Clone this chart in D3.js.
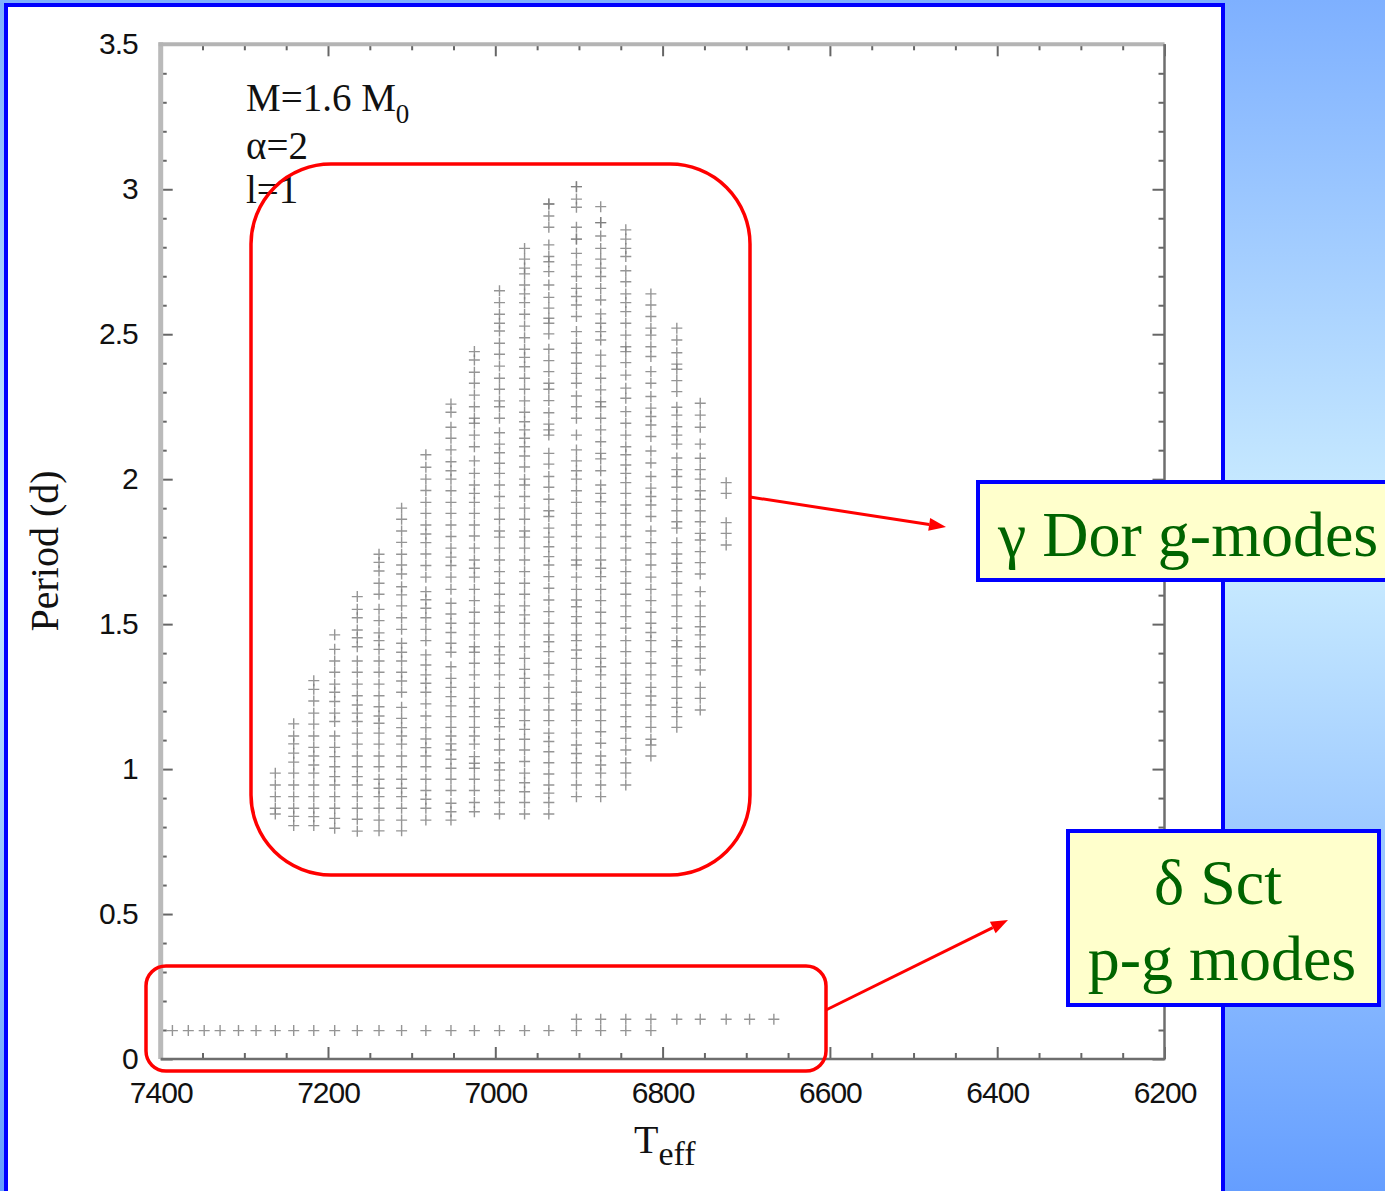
<!DOCTYPE html>
<html>
<head>
<meta charset="utf-8">
<script src="https://cdn.jsdelivr.net/npm/d3@7/dist/d3.min.js"></script>
<style>
  html, body { margin: 0; padding: 0; background: #ffffff; }
  svg { display: block; }
</style>
</head>
<body>
<svg id="chart" width="1385" height="1191"></svg>
<script>
// ---- Axis ticks -------------------------------------------------------
const teffMajorTicks = [7400, 7200, 7000, 6800, 6600, 6400, 6200];
const periodMajorTicks = [0, 0.5, 1, 1.5, 2, 2.5, 3, 3.5];
const teffTickLabels = ["7400", "7200", "7000", "6800", "6600", "6400", "6200"];
const periodTickLabels = ["0", "0.5", "1", "1.5", "2", "2.5", "3", "3.5"];

// ---- delta Sct (p-g) modes, one row along the bottom ------------------
const sctTeff = [7386, 7367, 7348, 7329, 7307, 7286, 7263, 7241, 7217, 7192, 7165, 7139,
                 7112, 7083, 7053, 7025, 6995, 6965, 6936,
                 6903, 6903, 6874, 6874, 6844, 6844, 6814, 6814,
                 6783, 6755, 6724, 6696, 6667];
const sctPeriod = [0.098, 0.098, 0.098, 0.098, 0.098, 0.098, 0.098, 0.098, 0.098, 0.098, 0.098, 0.098,
                   0.098, 0.098, 0.098, 0.098, 0.098, 0.098, 0.098,
                   0.098, 0.137, 0.098, 0.137, 0.098, 0.137, 0.098, 0.137,
                   0.137, 0.137, 0.137, 0.137, 0.137];

// ---- gamma Dor g-modes (l=1), periods in days for each model Teff -----
const gTeff = [7263, 7241, 7217, 7192, 7165, 7139, 7112, 7083, 7053, 7025,
               6995, 6965, 6936, 6903, 6874, 6844, 6814, 6783, 6755, 6724];

const p7263 = [0.986, 0.945, 0.905, 0.865, 0.845];
const p7241 = [1.156, 1.114, 1.087, 1.055, 1.024, 0.986, 0.945, 0.905, 0.865, 0.837, 0.805];
const p7217 = [1.305, 1.275, 1.235, 1.193, 1.155, 1.114, 1.075, 1.045, 1.014, 0.986, 0.945, 0.905,
               0.865, 0.836, 0.805];
const p7192 = [1.463, 1.413, 1.373, 1.334, 1.293, 1.265, 1.233, 1.193, 1.164, 1.114, 1.075, 1.043,
               1.008, 0.974, 0.945, 0.905, 0.865, 0.830, 0.796];
const p7165 = [1.595, 1.551, 1.522, 1.480, 1.453, 1.422, 1.373, 1.334, 1.293, 1.253, 1.221, 1.193,
               1.164, 1.124, 1.086, 1.045, 1.008, 0.974, 0.945, 0.905, 0.865, 0.827, 0.786];
const p7139 = [1.741, 1.713, 1.683, 1.641, 1.603, 1.551, 1.512, 1.470, 1.443, 1.413, 1.373, 1.334,
               1.293, 1.253, 1.215, 1.183, 1.158, 1.124, 1.086, 1.045, 1.008, 0.965, 0.934, 0.905,
               0.865, 0.824, 0.787];
const p7112 = [1.900, 1.862, 1.821, 1.782, 1.741, 1.704, 1.673, 1.629, 1.601, 1.563, 1.522, 1.482,
               1.434, 1.403, 1.373, 1.334, 1.304, 1.265, 1.213, 1.175, 1.143, 1.114, 1.086, 1.045,
               1.008, 0.965, 0.934, 0.905, 0.865, 0.824, 0.787];
const p7083 = [2.084, 2.041, 2.000, 1.961, 1.920, 1.882, 1.842, 1.811, 1.781, 1.742, 1.702, 1.662,
               1.612, 1.584, 1.555, 1.522, 1.482, 1.443, 1.394, 1.359, 1.325, 1.296, 1.265, 1.225,
               1.183, 1.143, 1.104, 1.074, 1.045, 1.008, 0.965, 0.926, 0.896, 0.865, 0.824];
const p7053 = [2.259, 2.231, 2.179, 2.141, 2.101, 2.060, 2.029, 2.000, 1.960, 1.920, 1.882, 1.842,
               1.802, 1.762, 1.731, 1.702, 1.662, 1.620, 1.572, 1.535, 1.503, 1.471, 1.434, 1.403,
               1.353, 1.313, 1.282, 1.250, 1.218, 1.181, 1.144, 1.114, 1.087, 1.066, 1.034, 1.003,
               0.965, 0.926, 0.882, 0.853, 0.824];
const p7025 = [2.440, 2.411, 2.369, 2.331, 2.290, 2.250, 2.210, 2.193, 2.152, 2.112, 2.063, 2.020,
               1.980, 1.951, 1.920, 1.882, 1.842, 1.804, 1.762, 1.721, 1.693, 1.662, 1.620, 1.581,
               1.541, 1.503, 1.463, 1.422, 1.403, 1.365, 1.325, 1.282, 1.244, 1.215, 1.181, 1.144,
               1.114, 1.086, 1.043, 1.020, 1.003, 0.965, 0.926, 0.885, 0.853];
const p6995 = [2.650, 2.609, 2.569, 2.538, 2.511, 2.469, 2.431, 2.390, 2.348, 2.310, 2.270, 2.250,
               2.210, 2.160, 2.121, 2.091, 2.055, 2.020, 1.980, 1.940, 1.900, 1.862, 1.821, 1.800,
               1.762, 1.721, 1.681, 1.641, 1.603, 1.563, 1.541, 1.503, 1.463, 1.422, 1.394, 1.365,
               1.325, 1.282, 1.244, 1.204, 1.175, 1.146, 1.103, 1.066, 1.022, 0.997, 0.962, 0.926,
               0.885, 0.845];
const p6965 = [2.796, 2.759, 2.728, 2.708, 2.670, 2.639, 2.609, 2.569, 2.528, 2.488, 2.448, 2.420,
               2.388, 2.348, 2.310, 2.270, 2.231, 2.198, 2.170, 2.141, 2.112, 2.080, 2.042, 2.000,
               1.980, 1.940, 1.900, 1.862, 1.821, 1.800, 1.762, 1.721, 1.681, 1.641, 1.603, 1.563,
               1.532, 1.503, 1.463, 1.422, 1.382, 1.344, 1.313, 1.282, 1.244, 1.204, 1.167, 1.137,
               1.103, 1.066, 1.026, 0.986, 0.953, 0.922, 0.885, 0.845];
const p6936 = [2.949, 2.949, 2.908, 2.869, 2.808, 2.768, 2.750, 2.716, 2.670, 2.627, 2.590, 2.555,
               2.538, 2.501, 2.448, 2.409, 2.371, 2.331, 2.310, 2.271, 2.229, 2.190, 2.170, 2.152,
               2.089, 2.052, 2.009, 1.972, 1.931, 1.891, 1.871, 1.831, 1.800, 1.767, 1.733, 1.704,
               1.664, 1.624, 1.583, 1.543, 1.503, 1.463, 1.439, 1.405, 1.365, 1.325, 1.282, 1.244,
               1.204, 1.167, 1.124, 1.095, 1.060, 1.022, 0.983, 0.945, 0.917, 0.885, 0.845];
const p6903 = [3.009, 3.009, 2.966, 2.938, 2.869, 2.828, 2.828, 2.779, 2.739, 2.699, 2.658, 2.630,
               2.601, 2.561, 2.509, 2.469, 2.436, 2.400, 2.365, 2.331, 2.287, 2.250, 2.210, 2.152,
               2.101, 2.063, 2.029, 2.000, 1.960, 1.920, 1.882, 1.842, 1.802, 1.762, 1.721, 1.704,
               1.662, 1.620, 1.583, 1.560, 1.526, 1.503, 1.463, 1.443, 1.411, 1.382, 1.344, 1.304,
               1.265, 1.225, 1.204, 1.167, 1.124, 1.083, 1.054, 1.022, 0.986, 0.945, 0.905];
const p6874 = [2.940, 2.885, 2.885, 2.839, 2.796, 2.759, 2.728, 2.699, 2.658, 2.618, 2.570, 2.538,
               2.509, 2.480, 2.428, 2.390, 2.348, 2.308, 2.267, 2.250, 2.210, 2.170, 2.129, 2.089,
               2.070, 2.029, 1.980, 1.951, 1.922, 1.882, 1.842, 1.800, 1.762, 1.721, 1.693, 1.664,
               1.620, 1.581, 1.541, 1.503, 1.463, 1.422, 1.382, 1.353, 1.325, 1.282, 1.244, 1.204,
               1.167, 1.129, 1.089, 1.045, 1.014, 0.986, 0.945, 0.905];
const p6844 = [2.860, 2.828, 2.796, 2.768, 2.719, 2.681, 2.639, 2.609, 2.578, 2.538, 2.497, 2.457,
               2.440, 2.402, 2.359, 2.314, 2.279, 2.233, 2.193, 2.152, 2.112, 2.084, 2.049, 2.020,
               1.988, 1.951, 1.911, 1.882, 1.842, 1.802, 1.762, 1.721, 1.681, 1.641, 1.603, 1.563,
               1.526, 1.486, 1.443, 1.405, 1.365, 1.325, 1.296, 1.261, 1.221, 1.181, 1.146, 1.106,
               1.066, 1.022, 0.986, 0.945];
const p6814 = [2.639, 2.601, 2.561, 2.521, 2.497, 2.457, 2.423, 2.371, 2.331, 2.285, 2.245, 2.216,
               2.187, 2.147, 2.097, 2.056, 2.009, 1.969, 1.940, 1.911, 1.871, 1.821, 1.781, 1.742,
               1.704, 1.662, 1.620, 1.581, 1.541, 1.503, 1.471, 1.443, 1.405, 1.365, 1.325, 1.282,
               1.252, 1.221, 1.181, 1.144, 1.103, 1.083, 1.045];
const p6783 = [2.521, 2.480, 2.436, 2.397, 2.379, 2.340, 2.302, 2.248, 2.221, 2.181, 2.152, 2.121,
               2.073, 2.033, 2.009, 1.972, 1.931, 1.891, 1.853, 1.831, 1.781, 1.742, 1.710, 1.681,
               1.641, 1.601, 1.563, 1.526, 1.486, 1.443, 1.422, 1.382, 1.356, 1.319, 1.282, 1.244,
               1.213, 1.181, 1.144];
const p6755 = [2.262, 2.221, 2.179, 2.121, 2.072, 2.033, 2.000, 1.960, 1.931, 1.891, 1.853, 1.813,
               1.790, 1.750, 1.712, 1.673, 1.612, 1.563, 1.526, 1.491, 1.463, 1.422, 1.382, 1.342,
               1.282, 1.244, 1.204];
const p6724 = [1.988, 1.951, 1.850, 1.813, 1.773];

const gPeriods = [p7263, p7241, p7217, p7192, p7165, p7139, p7112, p7083, p7053, p7025,
                  p6995, p6965, p6936, p6903, p6874, p6844, p6814, p6783, p6755, p6724];

// ---- Layout -----------------------------------------------------------
const svg = d3.select("#chart");
const W = 1385, H = 1191;
const plot = { left: 160.7, right: 1164.5, top: 44.3, bottom: 1059 };

const x = d3.scaleLinear().domain([7400, 6200]).range([plot.left, plot.right]);
const y = d3.scaleLinear().domain([0, 3.5]).range([plot.bottom, plot.top]);

// slide background
const defs = svg.append("defs");
const bg = defs.append("linearGradient")
  .attr("id", "slideBg").attr("x1", 0).attr("y1", 0).attr("x2", 0).attr("y2", 1);
bg.append("stop").attr("offset", "0%").attr("stop-color", "#7eb0ff");
bg.append("stop").attr("offset", "45%").attr("stop-color", "#cdeeff");
bg.append("stop").attr("offset", "100%").attr("stop-color", "#659eff");
svg.append("rect").attr("width", W).attr("height", H).attr("fill", "url(#slideBg)");

// white panel holding the figure
svg.append("rect")
  .attr("x", 6).attr("y", 5).attr("width", 1217).attr("height", 1220)
  .attr("fill", "#ffffff").attr("stroke", "#0000ff").attr("stroke-width", 4);

// ---- Ticks (mirrored on all four sides, pointing inward) --------------
const teffMinor = d3.range(7400, 6199, -50).filter(v => v % 200 !== 0);
const periodMinor = d3.range(0, 35.01, 1).map(v => v / 10).filter(v => Math.round(v * 10) % 5 !== 0);

function styleTicks(g) {
  g.select(".domain").remove();
  g.selectAll(".tick line").attr("stroke", "#666").attr("stroke-width", 2);
}

const tickFont = "'Liberation Sans', Arial, sans-serif";

// bottom
svg.append("g").attr("transform", `translate(0,${plot.bottom})`)
  .call(d3.axisBottom(x).tickValues(teffMinor).tickSize(-6).tickFormat(""))
  .call(styleTicks);
svg.append("g").attr("transform", `translate(0,${plot.bottom})`)
  .call(d3.axisBottom(x).tickValues(teffMajorTicks).tickSize(-12).tickPadding(23)
        .tickFormat((d, i) => teffTickLabels[i]))
  .call(styleTicks)
  .call(g => g.selectAll("text").attr("font-family", tickFont).attr("font-size", 30)
             .attr("fill", "#111").attr("letter-spacing", "-1"));
// top
svg.append("g").attr("transform", `translate(0,${plot.top})`)
  .call(d3.axisTop(x).tickValues(teffMinor).tickSize(-6).tickFormat(""))
  .call(styleTicks);
svg.append("g").attr("transform", `translate(0,${plot.top})`)
  .call(d3.axisTop(x).tickValues(teffMajorTicks).tickSize(-12).tickFormat(""))
  .call(styleTicks);
// left
svg.append("g").attr("transform", `translate(${plot.left},0)`)
  .call(d3.axisLeft(y).tickValues(periodMinor).tickSize(-6).tickFormat(""))
  .call(styleTicks);
svg.append("g").attr("transform", `translate(${plot.left},0)`)
  .call(d3.axisLeft(y).tickValues(periodMajorTicks).tickSize(-12).tickPadding(23)
        .tickFormat((d, i) => periodTickLabels[i]))
  .call(styleTicks)
  .call(g => g.selectAll("text").attr("font-family", tickFont).attr("font-size", 30)
             .attr("fill", "#111").attr("letter-spacing", "-1"));
// right
svg.append("g").attr("transform", `translate(${plot.right},0)`)
  .call(d3.axisRight(y).tickValues(periodMinor).tickSize(-6).tickFormat(""))
  .call(styleTicks);
svg.append("g").attr("transform", `translate(${plot.right},0)`)
  .call(d3.axisRight(y).tickValues(periodMajorTicks).tickSize(-12).tickFormat(""))
  .call(styleTicks);

// frame
const frame = svg.append("g").attr("fill", "none");
frame.append("line").attr("x1", plot.left).attr("x2", plot.left)
  .attr("y1", plot.top - 2).attr("y2", plot.bottom).attr("stroke", "#bababa").attr("stroke-width", 5);
frame.append("line").attr("x1", plot.left - 2).attr("x2", plot.right)
  .attr("y1", plot.top).attr("y2", plot.top).attr("stroke", "#b4b4b4").attr("stroke-width", 4);
frame.append("line").attr("x1", plot.left).attr("x2", plot.right + 1)
  .attr("y1", plot.bottom).attr("y2", plot.bottom).attr("stroke", "#6e6e6e").attr("stroke-width", 2.5);
frame.append("line").attr("x1", plot.right).attr("x2", plot.right)
  .attr("y1", plot.top).attr("y2", plot.bottom).attr("stroke", "#6e6e6e").attr("stroke-width", 2.5);

// ---- Plus markers -----------------------------------------------------
const half = 5.5;
const plusPath = (cx, cy) =>
  `M${cx - half},${cy}H${cx + half}M${cx},${cy - half}V${cy + half}`;

const gPoints = gTeff.flatMap((t, i) => gPeriods[i].map(p => ({ t, p })));
const sctPoints = sctTeff.map((t, i) => ({ t, p: sctPeriod[i] }));

const marks = svg.append("g").attr("fill", "none").attr("stroke", "#7a7a7a")
  .attr("stroke-width", 1.4).attr("stroke-opacity", 0.8);
marks.selectAll("path.g").data(gPoints).join("path")
  .attr("class", "g").attr("d", d => plusPath(x(d.t), y(d.p)));
marks.selectAll("path.s").data(sctPoints).join("path")
  .attr("class", "s").attr("d", d => plusPath(x(d.t), y(d.p)));

// ---- Axis titles and model parameters ---------------------------------
const serif = "'Liberation Serif', 'Times New Roman', serif";

svg.append("text")
  .attr("transform", "translate(58,551) rotate(-90)")
  .attr("text-anchor", "middle").attr("font-family", serif).attr("font-size", 40)
  .attr("fill", "#111").text("Period (d)");

const teffLabel = svg.append("text").attr("x", 634).attr("y", 1153)
  .attr("font-family", serif).attr("font-size", 40).attr("fill", "#111");
teffLabel.append("tspan").text("T");
teffLabel.append("tspan").attr("dy", 12).attr("font-size", 34).text("eff");

const params = svg.append("g").attr("font-family", serif).attr("font-size", 39).attr("fill", "#111");
const massLine = params.append("text").attr("x", 246).attr("y", 111);
massLine.append("tspan").text("M=1.6 M");
massLine.append("tspan").attr("dy", 12).attr("font-size", 27).text("0");
params.append("text").attr("x", 246).attr("y", 159).text("α=2");
params.append("text").attr("x", 246).attr("y", 203).text("l=1");

// ---- Highlight boxes and arrows ---------------------------------------
const red = "#ff0000";
svg.append("rect").attr("x", 251).attr("y", 164).attr("width", 499).attr("height", 711)
  .attr("rx", 80).attr("ry", 80)
  .attr("fill", "none").attr("stroke", red).attr("stroke-width", 3.5);
svg.append("rect").attr("x", 146).attr("y", 966).attr("width", 680).attr("height", 105)
  .attr("rx", 20).attr("ry", 20)
  .attr("fill", "none").attr("stroke", red).attr("stroke-width", 3.5);

function arrow(x1, y1, x2, y2) {
  const a = Math.atan2(y2 - y1, x2 - x1);
  const len = 17, w = 6.5;
  const bx = x2 - len * Math.cos(a), by = y2 - len * Math.sin(a);
  svg.append("line").attr("x1", x1).attr("y1", y1).attr("x2", bx).attr("y2", by)
    .attr("stroke", red).attr("stroke-width", 3);
  const pts = [
    [x2, y2],
    [bx + w * Math.sin(a), by - w * Math.cos(a)],
    [bx - w * Math.sin(a), by + w * Math.cos(a)]
  ];
  svg.append("path").attr("d", d3.line()(pts) + "Z").attr("fill", red);
}
arrow(750, 497, 946, 527);
arrow(826, 1010, 1008, 920);

// ---- Callout labels ---------------------------------------------------
const green = "#006400";
svg.append("rect").attr("x", 978).attr("y", 482).attr("width", 430).attr("height", 98)
  .attr("fill", "#ffffcc").attr("stroke", "#0000ff").attr("stroke-width", 4);
svg.append("text").attr("x", 998).attr("y", 556)
  .attr("font-family", serif).attr("font-size", 64).attr("fill", green)
  .text("γ Dor g-modes");

svg.append("rect").attr("x", 1068).attr("y", 831).attr("width", 311).attr("height", 174)
  .attr("fill", "#ffffcc").attr("stroke", "#0000ff").attr("stroke-width", 4);
const sctLabel = svg.append("text").attr("font-family", serif).attr("font-size", 64)
  .attr("fill", green).attr("text-anchor", "middle");
sctLabel.append("tspan").attr("x", 1218).attr("y", 904).text("δ Sct");
sctLabel.append("tspan").attr("x", 1222).attr("y", 980).text("p-g modes");
</script>
</body>
</html>
